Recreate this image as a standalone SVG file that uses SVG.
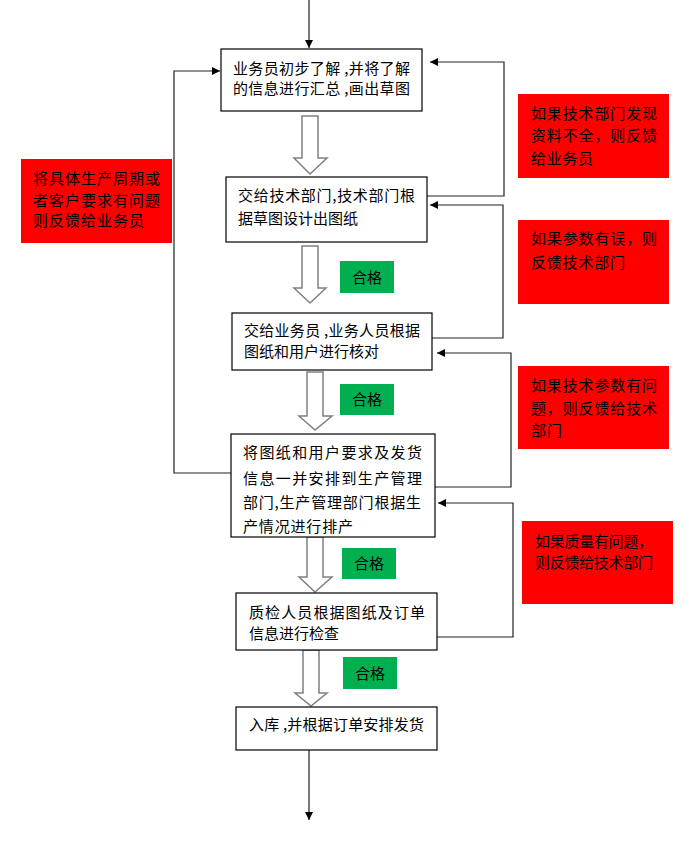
<svg xmlns="http://www.w3.org/2000/svg" width="689" height="842" viewBox="0 0 689 842">
<style>
  .box { fill: #ffffff; stroke: #000000; stroke-width: 1.2; }
  .red { fill: #ff0000; }
  .green { fill: #00b050; }
  .blk { fill: #ffffff; stroke: #808080; stroke-width: 1.5; }
  .t { font-family: "Noto Sans CJK SC", "Noto Sans", sans-serif; font-size: 15px; fill: #000000; }
  .c { text-anchor: middle; }
  .conn { fill: none; stroke: #222222; stroke-width: 1.2; }
</style>
<defs>
  <marker id="ah" viewBox="0 0 8 8" refX="8" refY="4" markerWidth="8" markerHeight="8" markerUnits="userSpaceOnUse" orient="auto">
    <path d="M0,0 L8,4 L0,8 z" fill="#000000"/>
  </marker>
</defs>
<rect width="689" height="842" fill="#ffffff"/>

<g id="connectors">
  <line class="conn" x1="309" y1="0" x2="309" y2="48" marker-end="url(#ah)"/>
  <polyline class="conn" points="231,473 174,473 174,71 220,71" marker-end="url(#ah)"/>
  <polyline class="conn" points="427,196 504,196 504,62 430,62" marker-end="url(#ah)"/>
  <polyline class="conn" points="432,338 503,338 503,205 430,205" marker-end="url(#ah)"/>
  <polyline class="conn" points="435,487 511,487 511,353 437,353" marker-end="url(#ah)"/>
  <polyline class="conn" points="437,637 513,637 513,503 438,503" marker-end="url(#ah)"/>
  <line class="conn" x1="309" y1="750" x2="309" y2="820" marker-end="url(#ah)"/>
  <path class="blk" d="M302,116 H318 V158 H327 L310,174 L294,158 H302 Z"/>
  <path class="blk" d="M302,246 H318 V288 H326 L310,303 L294,288 H302 Z"/>
  <path class="blk" d="M307,372 H323 V416 H332 L315,430 L299,416 H307 Z"/>
  <path class="blk" d="M307,537 H323 V577 H332 L315,592 L299,577 H307 Z"/>
  <path class="blk" d="M303,650 H319 V693 H327 L311,706 L295,693 H303 Z"/>
</g>

<g id="box1">
  <rect class="box" x="221" y="49" width="201" height="62"/>
  <text class="t" x="233" y="74" textLength="177" lengthAdjust="spacing">业务员初步了解 ,并将了解</text>
  <text class="t" x="233" y="94" textLength="177" lengthAdjust="spacing">的信息进行汇总 ,画出草图</text>
</g>

<g id="box2">
  <rect class="box" x="226" y="177" width="201" height="65"/>
  <text class="t" x="238" y="201" textLength="177" lengthAdjust="spacing">交给技术部门,技术部门根</text>
  <text class="t" x="238" y="224">据草图设计出图纸</text>
</g>

<g id="box3">
  <rect class="box" x="232" y="313" width="200" height="57"/>
  <text class="t" x="244" y="336" textLength="176" lengthAdjust="spacing">交给业务员 ,业务人员根据</text>
  <text class="t" x="244" y="357">图纸和用户进行核对</text>
</g>

<g id="box4">
  <rect class="box" x="231" y="434" width="204" height="103"/>
  <text class="t" x="243" y="458" textLength="179" lengthAdjust="spacing">将图纸和用户要求及发货</text>
  <text class="t" x="243" y="484" textLength="179" lengthAdjust="spacing">信息一并安排到生产管理</text>
  <text class="t" x="243" y="508" textLength="178" lengthAdjust="spacing">部门,生产管理部门根据生</text>
  <text class="t" x="243" y="532" textLength="110" lengthAdjust="spacing">产情况进行排产</text>
</g>

<g id="box5">
  <rect class="box" x="236" y="593" width="201" height="57"/>
  <text class="t" x="249" y="618" textLength="176" lengthAdjust="spacing">质检人员根据图纸及订单</text>
  <text class="t" x="249" y="639">信息进行检查</text>
</g>

<g id="box6">
  <rect class="box" x="236" y="707" width="201" height="43"/>
  <text class="t" x="249" y="730" textLength="175" lengthAdjust="spacing">入库 ,并根据订单安排发货</text>
</g>

<g id="note-left">
  <rect class="red" x="21" y="159" width="151" height="84"/>
  <text class="t" x="33" y="184" textLength="127" lengthAdjust="spacing">将具体生产周期或</text>
  <text class="t" x="33" y="205.5" textLength="127" lengthAdjust="spacing">者客户要求有问题</text>
  <text class="t" x="33" y="226" textLength="111" lengthAdjust="spacing">则反馈给业务员</text>
</g>

<g id="note-r1">
  <rect class="red" x="518" y="94" width="151" height="84"/>
  <text class="t" x="531" y="118.5" textLength="126" lengthAdjust="spacing">如果技术部门发现</text>
  <text class="t" x="531" y="140.5" textLength="126" lengthAdjust="spacing">资料不全，则反馈</text>
  <text class="t" x="531" y="163.5" textLength="62" lengthAdjust="spacing">给业务员</text>
</g>

<g id="note-r2">
  <rect class="red" x="518" y="220" width="151" height="84"/>
  <text class="t" x="531" y="243.5" textLength="126" lengthAdjust="spacing">如果参数有误，则</text>
  <text class="t" x="531" y="267.5" textLength="94" lengthAdjust="spacing">反馈技术部门</text>
</g>

<g id="note-r3">
  <rect class="red" x="518" y="366" width="151" height="83"/>
  <text class="t" x="531" y="390.5" textLength="126" lengthAdjust="spacing">如果技术参数有问</text>
  <text class="t" x="531" y="413.5" textLength="126" lengthAdjust="spacing">题，则反馈给技术</text>
  <text class="t" x="531" y="435.5" textLength="31" lengthAdjust="spacing">部门</text>
</g>

<g id="note-r4">
  <rect class="red" x="522" y="521" width="151" height="83"/>
  <text class="t" x="535" y="546.5" textLength="118" lengthAdjust="spacing">如果质量有问题，</text>
  <text class="t" x="535" y="567.5" textLength="118" lengthAdjust="spacing">则反馈给技术部门</text>
</g>

<g id="ok1">
  <rect class="green" x="340" y="261" width="54" height="32"/>
  <text class="t c" x="367" y="282.5">合格</text>
</g>
<g id="ok2">
  <rect class="green" x="340" y="384" width="54" height="31"/>
  <text class="t c" x="367" y="405">合格</text>
</g>
<g id="ok3">
  <rect class="green" x="342" y="548" width="54" height="31"/>
  <text class="t c" x="369" y="569">合格</text>
</g>
<g id="ok4">
  <rect class="green" x="343" y="657" width="54" height="32"/>
  <text class="t c" x="370" y="678.5">合格</text>
</g>
</svg>
